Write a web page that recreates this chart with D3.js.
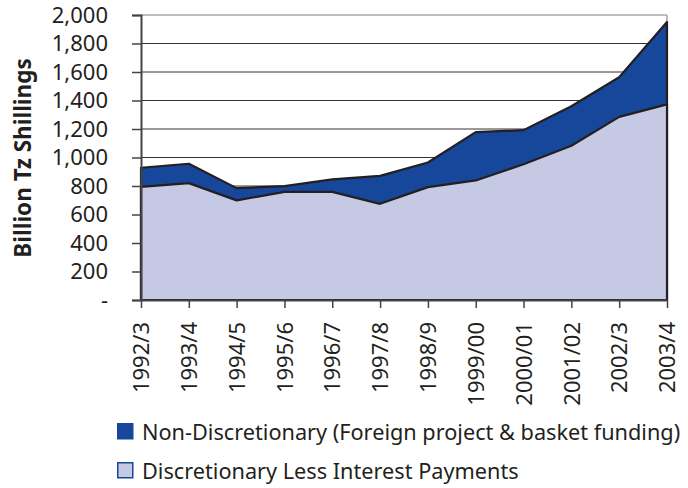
<!DOCTYPE html>
<html><head><meta charset="utf-8">
<script src="https://cdn.jsdelivr.net/npm/d3@7"></script>
<style>
html,body{margin:0;padding:0;background:#fff;}
svg{display:block;}
text{font-family:"Noto Sans",sans-serif;fill:#231f20;}
</style></head>
<body><svg id="c" width="688" height="488"></svg>
<script>
const categories = ["1992/3","1993/4","1994/5","1995/6","1996/7","1997/8","1998/9","1999/00","2000/01","2001/02","2002/3","2003/4"];
const discretionary = [794,820,699,759,759,675,792,839,953,1082,1285,1373];
const nonDiscretionary = [134,136,86,40,87,196,173,339,239,278,278,578];
const yTicks = [0,200,400,600,800,1000,1200,1400,1600,1800,2000];
const seriesNames = ["Non-Discretionary (Foreign project & basket funding)","Discretionary Less Interest Payments"];
const colors = {non:"#17479b", disc:"#c5c9e4", line:"#231f20"};

const svg = d3.select("#c");
const x = d3.scalePoint().domain(categories).range([141,667]);
const y = d3.scaleLinear().domain([0,2000]).range([300,15]);

const totals = discretionary.map((d,i)=>d+nonDiscretionary[i]);

svg.append("g").selectAll("line").data(yTicks.filter(t=>t>0 && t<2000)).join("line")
  .attr("x1",141).attr("x2",667).attr("y1",d=>y(d)).attr("y2",d=>y(d))
  .attr("stroke","#333").attr("stroke-width",1);
svg.append("line").attr("x1",141).attr("x2",667).attr("y1",y(2000)).attr("y2",y(2000))
  .attr("stroke","#a7a9ac").attr("stroke-width",1.5);
svg.append("line").attr("x1",667).attr("x2",667).attr("y1",y(2000)).attr("y2",y(0))
  .attr("stroke","#a7a9ac").attr("stroke-width",1.5);

const areaTop = d3.area().x((d,i)=>x(categories[i])).y0(y(0)).y1(d=>y(d));
svg.append("path").datum(totals).attr("d",areaTop).attr("fill",colors.non)
  .attr("stroke",colors.line).attr("stroke-width",2.2).attr("stroke-linejoin","round");
svg.append("path").datum(discretionary).attr("d",areaTop).attr("fill",colors.disc)
  .attr("stroke",colors.line).attr("stroke-width",2.2).attr("stroke-linejoin","round");

const yAxis = d3.axisLeft(y).tickValues(yTicks).tickSize(9).tickPadding(24)
  .tickFormat(d=>d===0?"-":d3.format(",")(d));
const gy = svg.append("g").attr("transform","translate(141,0)").call(yAxis);
gy.select(".domain").attr("stroke","#444").attr("stroke-width",2);
gy.selectAll(".tick line").attr("stroke","#444").attr("stroke-width",1.5);
gy.selectAll("text").attr("font-size",22).attr("font-family","Noto Sans").attr("fill","#231f20").attr("x",-33);

const xAxis = d3.axisBottom(x).tickSize(8).tickSizeOuter(0);
const gx = svg.append("g").attr("transform","translate(0,300)").call(xAxis);
gx.select(".domain").attr("stroke","#444").attr("stroke-width",2);
gx.selectAll(".tick line").attr("stroke","#444").attr("stroke-width",1.5);
gx.selectAll("text").attr("font-size",22).attr("font-family","Noto Sans").attr("fill","#231f20")
  .attr("transform","rotate(-90)").attr("text-anchor","end").attr("x",-22).attr("y",0).attr("dy","0.35em");

svg.append("text").attr("transform","translate(31,158) rotate(-90)").attr("text-anchor","middle")
  .attr("font-size",22.5).attr("font-weight","bold").text("Billion Tz Shillings");

const leg = svg.append("g");
const items = [{name:seriesNames[0],fill:colors.non,stroke:colors.non},{name:seriesNames[1],fill:colors.disc,stroke:colors.non}];
items.forEach((it,i)=>{
  const g = leg.append("g").attr("transform",`translate(117,${423+i*39})`);
  g.append("rect").attr("x",0.75).attr("y",0.75).attr("width",15).attr("height",15)
    .attr("fill",it.fill).attr("stroke",it.stroke).attr("stroke-width",1.5);
  g.append("text").attr("x",25).attr("y",17).attr("font-size",21.7).text(it.name);
});
</script></body></html>
